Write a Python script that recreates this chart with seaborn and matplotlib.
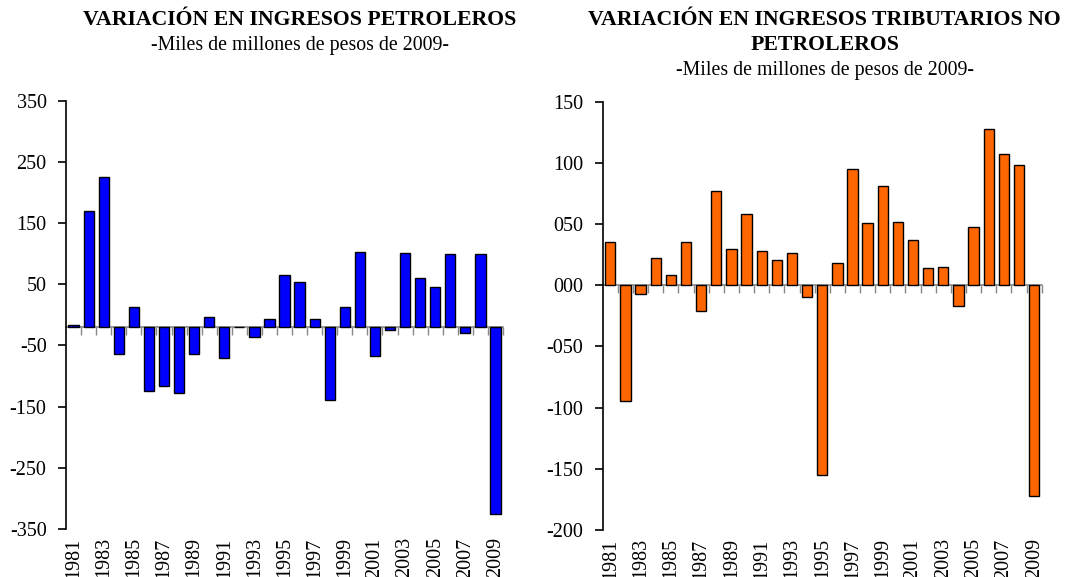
import numpy as np
import pandas as pd
import matplotlib.pyplot as plt
import seaborn as sns

# datos (miles de millones de pesos de 2009)
years = list(range(1981, 2010))
petroleros = [-17, 169, 225, -64, 13, -125, -117, -127, -64, -3,
              -71, -20, -37, -6, 65, 53, -6, -139, 13, 103,
              -68, -25, 101, 61, 46, 99, -29, 99, -325]
tributarios = [35, -95, -7, 22, 8, 35, -21, 77, 30, 58,
               28, 21, 26, -10, -155, 18, 95, 51, 81, 52,
               37, 14, 15, -17, 48, 128, 107, 98, -172]

# el eje horizontal cruza en estos valores
base_petro = -20
base_trib = 0

yticks_petro = [350, 250, 150, 50, -50, -150, -250, -350]
yticks_trib = [150, 100, 50, 0, -50, -100, -150, -200]
ylabels_trib = ["150", "100", "050", "000", "-050", "-100", "-150", "-200"]

sns.set_theme(style="white")
plt.rcParams['font.family'] = ['Liberation Serif', 'DejaVu Serif']
plt.rcParams['text.color'] = 'black'

fig = plt.figure(figsize=(10.67, 5.77), dpi=100)
ax1 = fig.add_axes([0.0619, 0.0832, 0.4095, 0.7423])
ax2 = fig.add_axes([0.5649, 0.0815, 0.4114, 0.7422])


def draw_panel(ax, values, base, color, ylim, yticks, ylabels):
    df = pd.DataFrame({"year": [str(y) for y in years], "valor": values})
    df["altura"] = df["valor"] - base
    sns.barplot(data=df, x="year", y="altura", bottom=base, color=color,
                saturation=1, width=0.68, edgecolor="black", linewidth=1.0,
                errorbar=None, ax=ax)
    ax.set_xlim(-0.5, len(years) - 0.5)
    ax.set_ylim(*ylim)
    ax.set_yticks(yticks, ylabels)
    ax.set_xticks(range(0, len(years), 2), [str(y) for y in years[::2]], rotation=90)
    ax.set_xlabel("")
    ax.set_ylabel("")
    for s in ["top", "right", "bottom"]:
        ax.spines[s].set_visible(False)
    ax.spines["left"].set_color("black")
    ax.spines["left"].set_linewidth(1.2)
    ax.tick_params(axis="y", left=True, direction="out", length=6, width=1.2,
                   color="black", labelsize=14.5, pad=8, labelcolor="black")
    ax.tick_params(axis="x", bottom=True, length=0, labelsize=14.5, pad=6,
                   labelcolor="black")
    # linea base con marcas entre categorias
    sec = ax.secondary_xaxis(base, transform=ax.transData)
    sec.set_xticks(np.arange(0.5, len(years), 1), [])
    sec.tick_params(direction="out", length=6, width=1.0, color="#888888")
    sec.spines["bottom"].set_color("#888888")
    sec.spines["bottom"].set_linewidth(1.2)


draw_panel(ax1, petroleros, base_petro, "#0000FF", (-350, 350),
           yticks_petro, [str(t) for t in yticks_petro])
draw_panel(ax2, tributarios, base_trib, "#FF6600", (-200, 150),
           yticks_trib, ylabels_trib)

fig.text(0.281, 0.965, "VARIACIÓN EN INGRESOS PETROLEROS", ha="center", va="center",
         fontsize=15.7, fontweight="bold")
fig.text(0.281, 0.922, "-Miles de millones de pesos de 2009-", ha="center", va="center",
         fontsize=14.3)
fig.text(0.773, 0.965, "VARIACIÓN EN INGRESOS TRIBUTARIOS NO", ha="center", va="center",
         fontsize=15.7, fontweight="bold")
fig.text(0.773, 0.922, "PETROLEROS", ha="center", va="center",
         fontsize=15.7, fontweight="bold")
fig.text(0.773, 0.877, "-Miles de millones de pesos de 2009-", ha="center", va="center",
         fontsize=14.3)

fig.savefig("out.png", dpi=100)
